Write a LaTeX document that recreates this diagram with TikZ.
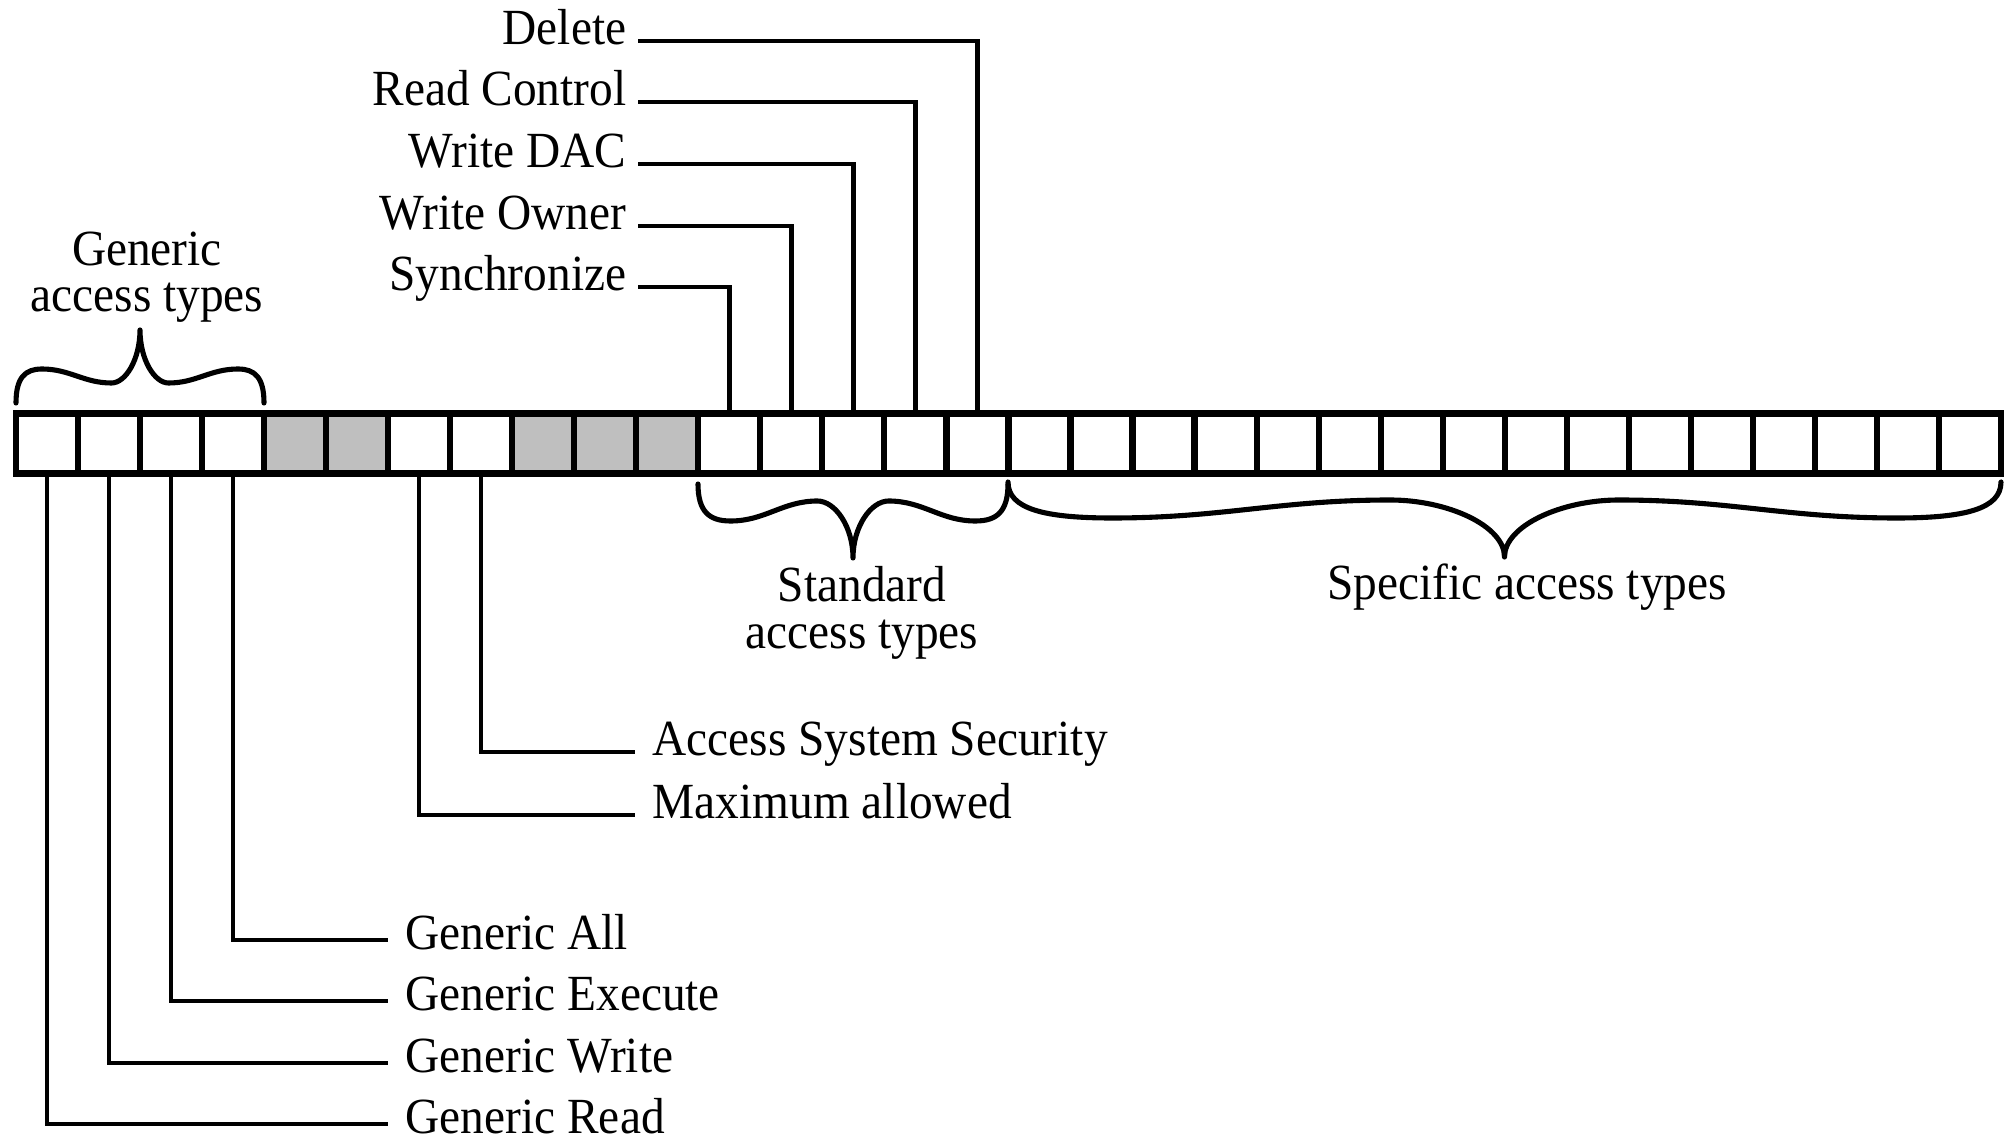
\documentclass[tikz,border=0pt]{standalone}
\usepackage{fontspec}
\setmainfont{Liberation Serif}[FakeStretch=0.935]

% curly brace with wavy arms: #1 left x, #2 right x, #3 end y,
% #4 arm y near the ends, #5 arm y near the tip, #6 tip y
\newcommand\accbrace[6]{%
  \pgfmathsetmacro\bxm{(#1+#2)/2}%
  \pgfmathsetmacro\bhw{(#2-#1)/2}%
  \pgfmathsetmacro\bAl{#1+0.21*\bhw}%
  \pgfmathsetmacro\bBl{\bxm-0.23*\bhw}%
  \pgfmathsetmacro\bAr{#2-0.21*\bhw}%
  \pgfmathsetmacro\bBr{\bxm+0.23*\bhw}%
  \pgfmathsetmacro\bEl{#3+0.75*(#4-#3)}%
  \pgfmathsetmacro\bTc{#5+0.45*(#6-#5)}%
  \pgfmathsetmacro\bcA{0.35*0.21*\bhw}%
  \pgfmathsetmacro\bcS{0.4*(\bBl-\bAl)}%
  \pgfmathsetmacro\bcT{0.5*0.23*\bhw}%
  \draw[brace] (#1,#3) .. controls (#1,\bEl) and ({#1+\bcA},#4) .. (\bAl,#4)
     .. controls ({\bAl+\bcS},#4) and ({\bBl-\bcS},#5) .. (\bBl,#5)
     .. controls ({\bBl+\bcT},#5) and (\bxm,\bTc) .. (\bxm,#6)
     .. controls (\bxm,\bTc) and ({\bBr-\bcT},#5) .. (\bBr,#5)
     .. controls ({\bBr+\bcS},#5) and ({\bAr-\bcS},#4) .. (\bAr,#4)
     .. controls ({#2-\bcA},#4) and (#2,\bEl) .. (#2,#3);
}

\begin{document}
\begin{tikzpicture}[x=0.01cm, y=-0.01cm,
  cell/.style={draw, line width=1.75pt, minimum width=0.6203cm,
    minimum height=0.6cm, inner sep=0pt, outer sep=0pt},
  conn/.style={line width=1.25pt},
  brace/.style={line width=1.45pt, line cap=round, line join=round},
  lbl/.style={inner sep=0pt, font=\fontsize{14.4}{13.2}\selectfont},
  grp/.style={lbl, align=center}]
\useasboundingbox (0,0) rectangle (2011,1140);

% the 32-bit access mask
\foreach \i in {0,...,31}{
  \pgfmathsetmacro\cx{16+62.03*(\i+0.5)}
  \pgfmathtruncatemacro\g{(\i==4)||(\i==5)||((\i>=8)&&(\i<=10))}
  \ifnum\g=1 \def\fc{black!25}\else\def\fc{white}\fi
  \node[cell, fill=\fc] (c\i) at (\cx,443.5) {};
}

% standard rights above the mask
\node[lbl, anchor=base east] (del)  at (627,45)  {Delete};
\node[lbl, anchor=base east] (rdc)  at (627,106) {Read Control};
\node[lbl, anchor=base east] (wdac) at (627,168) {Write DAC};
\node[lbl, anchor=base east] (wown) at (627,230) {Write Owner};
\node[lbl, anchor=base east] (sync) at (627,291) {Synchronize};
\draw[conn] (del.base east)  ++(11,-4) -| (c15.north);
\draw[conn] (rdc.base east)  ++(11,-4) -| (c14.north);
\draw[conn] (wdac.base east) ++(11,-4) -| (c13.north);
\draw[conn] (wown.base east) ++(11,-4) -| (c12.north);
\draw[conn] (sync.base east) ++(11,-4) -| (c11.north);

% special and generic bits below the mask
\node[lbl, anchor=base west] (ass)  at (652,755)  {Access System Security};
\node[lbl, anchor=base west] (max)  at (652,818)  {Maximum allowed};
\node[lbl, anchor=base west] (gall) at (405,949)  {Generic All};
\node[lbl, anchor=base west] (gexe) at (405,1010) {Generic Execute};
\node[lbl, anchor=base west] (gwri) at (405,1072) {Generic Write};
\node[lbl, anchor=base west] (grea) at (405,1133) {Generic Read};
\draw[conn] (c7.south) |- ([shift={(-17,-3)}]ass.base west);
\draw[conn] (c6.south) |- ([shift={(-17,-3)}]max.base west);
\draw[conn] (c3.south) |- ([shift={(-17,-9)}]gall.base west);
\draw[conn] (c2.south) |- ([shift={(-17,-9)}]gexe.base west);
\draw[conn] (c1.south) |- ([shift={(-17,-9)}]gwri.base west);
\draw[conn] (c0.south) |- ([shift={(-17,-9)}]grea.base west);

% groups of bits
\accbrace{16}{264}{403}{369}{383}{330}
\accbrace{698}{1008}{484}{521}{501}{558}
\accbrace{1008}{2001}{482}{518}{500}{557}
\node[grp, anchor=north] (gen)  at (147,231) {Generic\\access types};
\node[grp, anchor=north] (std)  at (862,566) {Standard\\access types};
\node[lbl, anchor=base]  (spec) at (1527,600) {Specific access types};
\end{tikzpicture}
\end{document}
